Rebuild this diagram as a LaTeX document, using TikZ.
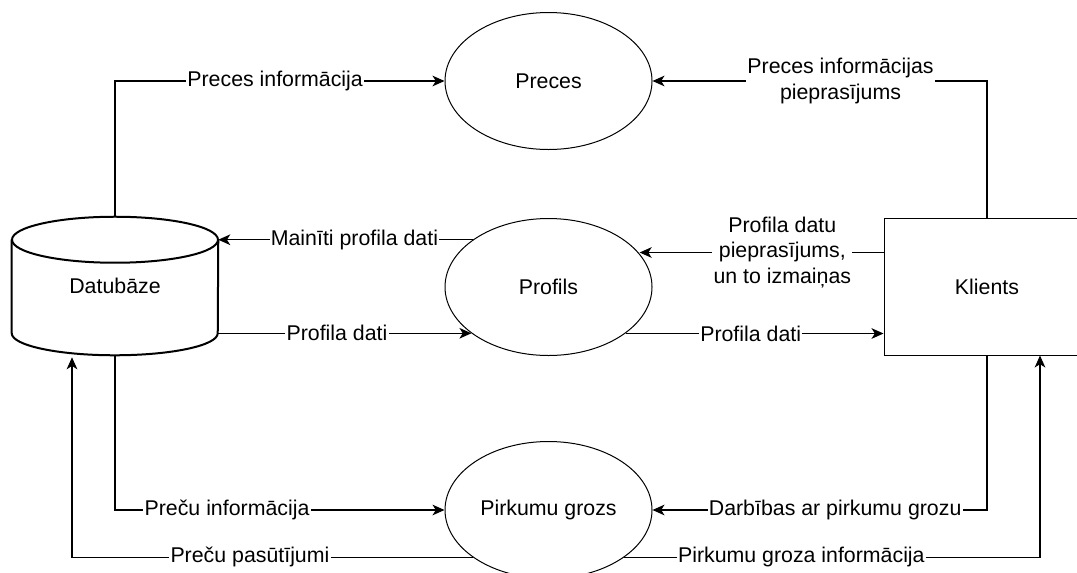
\documentclass[tikz,border=0pt]{standalone}
\usepackage{fontspec}
\setmainfont{Liberation Sans}
\usetikzlibrary{shapes.geometric,arrows.meta,calc}
\begin{document}
\begin{tikzpicture}[x=0.75pt,y=-0.75pt,
  proc/.style={ellipse,draw,line width=0.75pt,minimum width=155.25pt,minimum height=102.75pt,inner sep=0pt,font=\fontsize{16}{19}\selectfont},
  ent/.style={rectangle,draw,line width=0.75pt,minimum width=154.5pt,minimum height=102.75pt,inner sep=0pt,font=\fontsize{16}{19}\selectfont},
  store/.style={rectangle,minimum width=154.5pt,minimum height=103.5pt,inner sep=0pt,font=\fontsize{16}{19}\selectfont},
  storeline/.style={line width=1.5pt},
  flow/.style={line width=0.9pt,-{Stealth[length=9pt,width=8pt,inset=2.5pt]}},
  lbl/.style={fill=white,inner sep=1pt,font=\fontsize{16}{19}\selectfont,align=center}
]
\useasboundingbox (0,0) rectangle (1077,572);
\clip (0,0) rectangle (1077,572);

% nodes
\node[store] (db) at (115,286) {Datubāze};
\node[proc] (preces) at (548.5,81) {Preces};
\node[proc] (profils) at (548.5,287) {Profils};
\node[proc] (grozs) at (548.5,510) {Pirkumu grozs};
\node[ent] (kl) at (987,286.5) {Klients};

% cylinder outline of the data store
\draw[storeline] ($(db.north)+(0,23)$) ellipse [x radius=77.25pt, y radius=17.25pt];
\draw[storeline] ($(db.north west)+(0,23)$) -- ($(db.south west)+(0,-22)$)
  arc[start angle=180,end angle=360,x radius=77.25pt,y radius=16.5pt]
  -- ($(db.north east)+(0,23)$);

% helper coordinates
\coordinate (dbT) at ($(db.north east)+(0,23)$);
\coordinate (dbB) at ($(db.south east)+(0,-22)$);
\coordinate (dbP) at ($(db.south)+(-43,2)$);
\coordinate (klA) at ($(kl.north west)+(0,35)$);
\coordinate (klB) at ($(kl.south west)+(0,-22)$);
\coordinate (klC) at ($(kl.south)+(53,0)$);

% connectors
\draw[flow] (db.north) |- node[lbl,pos=0.743]{Preces informācija} (preces.west);
\draw[flow] (kl.north) |- node[lbl,pos=0.719]{Preces informācijas\\pieprasījums} (preces.east);
\draw[flow] (dbT -| profils.148) -- node[lbl,pos=0.465]{Mainīti profila dati} (dbT);
\draw[flow] (dbB) -- node[lbl,pos=0.469]{Profila dati} (dbB -| profils.211);
\draw[flow] (klA) -- node[lbl,pos=0.415]{Profila datu\\pieprasījums,\\un to izmaiņas} (klA -| profils.20.7);
\draw[flow] (klB -| profils.329) -- node[lbl,pos=0.485]{Profila dati} (klB);
\draw[flow] (db.south) |- node[lbl,pos=0.67]{Preču informācija} (grozs.west);
\draw[flow] (kl.south) |- node[lbl,pos=0.727]{Darbības ar pirkumu grozu} (grozs.east);
\draw[flow] (grozs.212) -| node[lbl,pos=0.278]{Preču pasūtījumi} (dbP);
\draw[flow] (grozs.328) -| node[lbl,pos=0.213]{Pirkumu groza informācija} (klC);
\end{tikzpicture}
\end{document}
